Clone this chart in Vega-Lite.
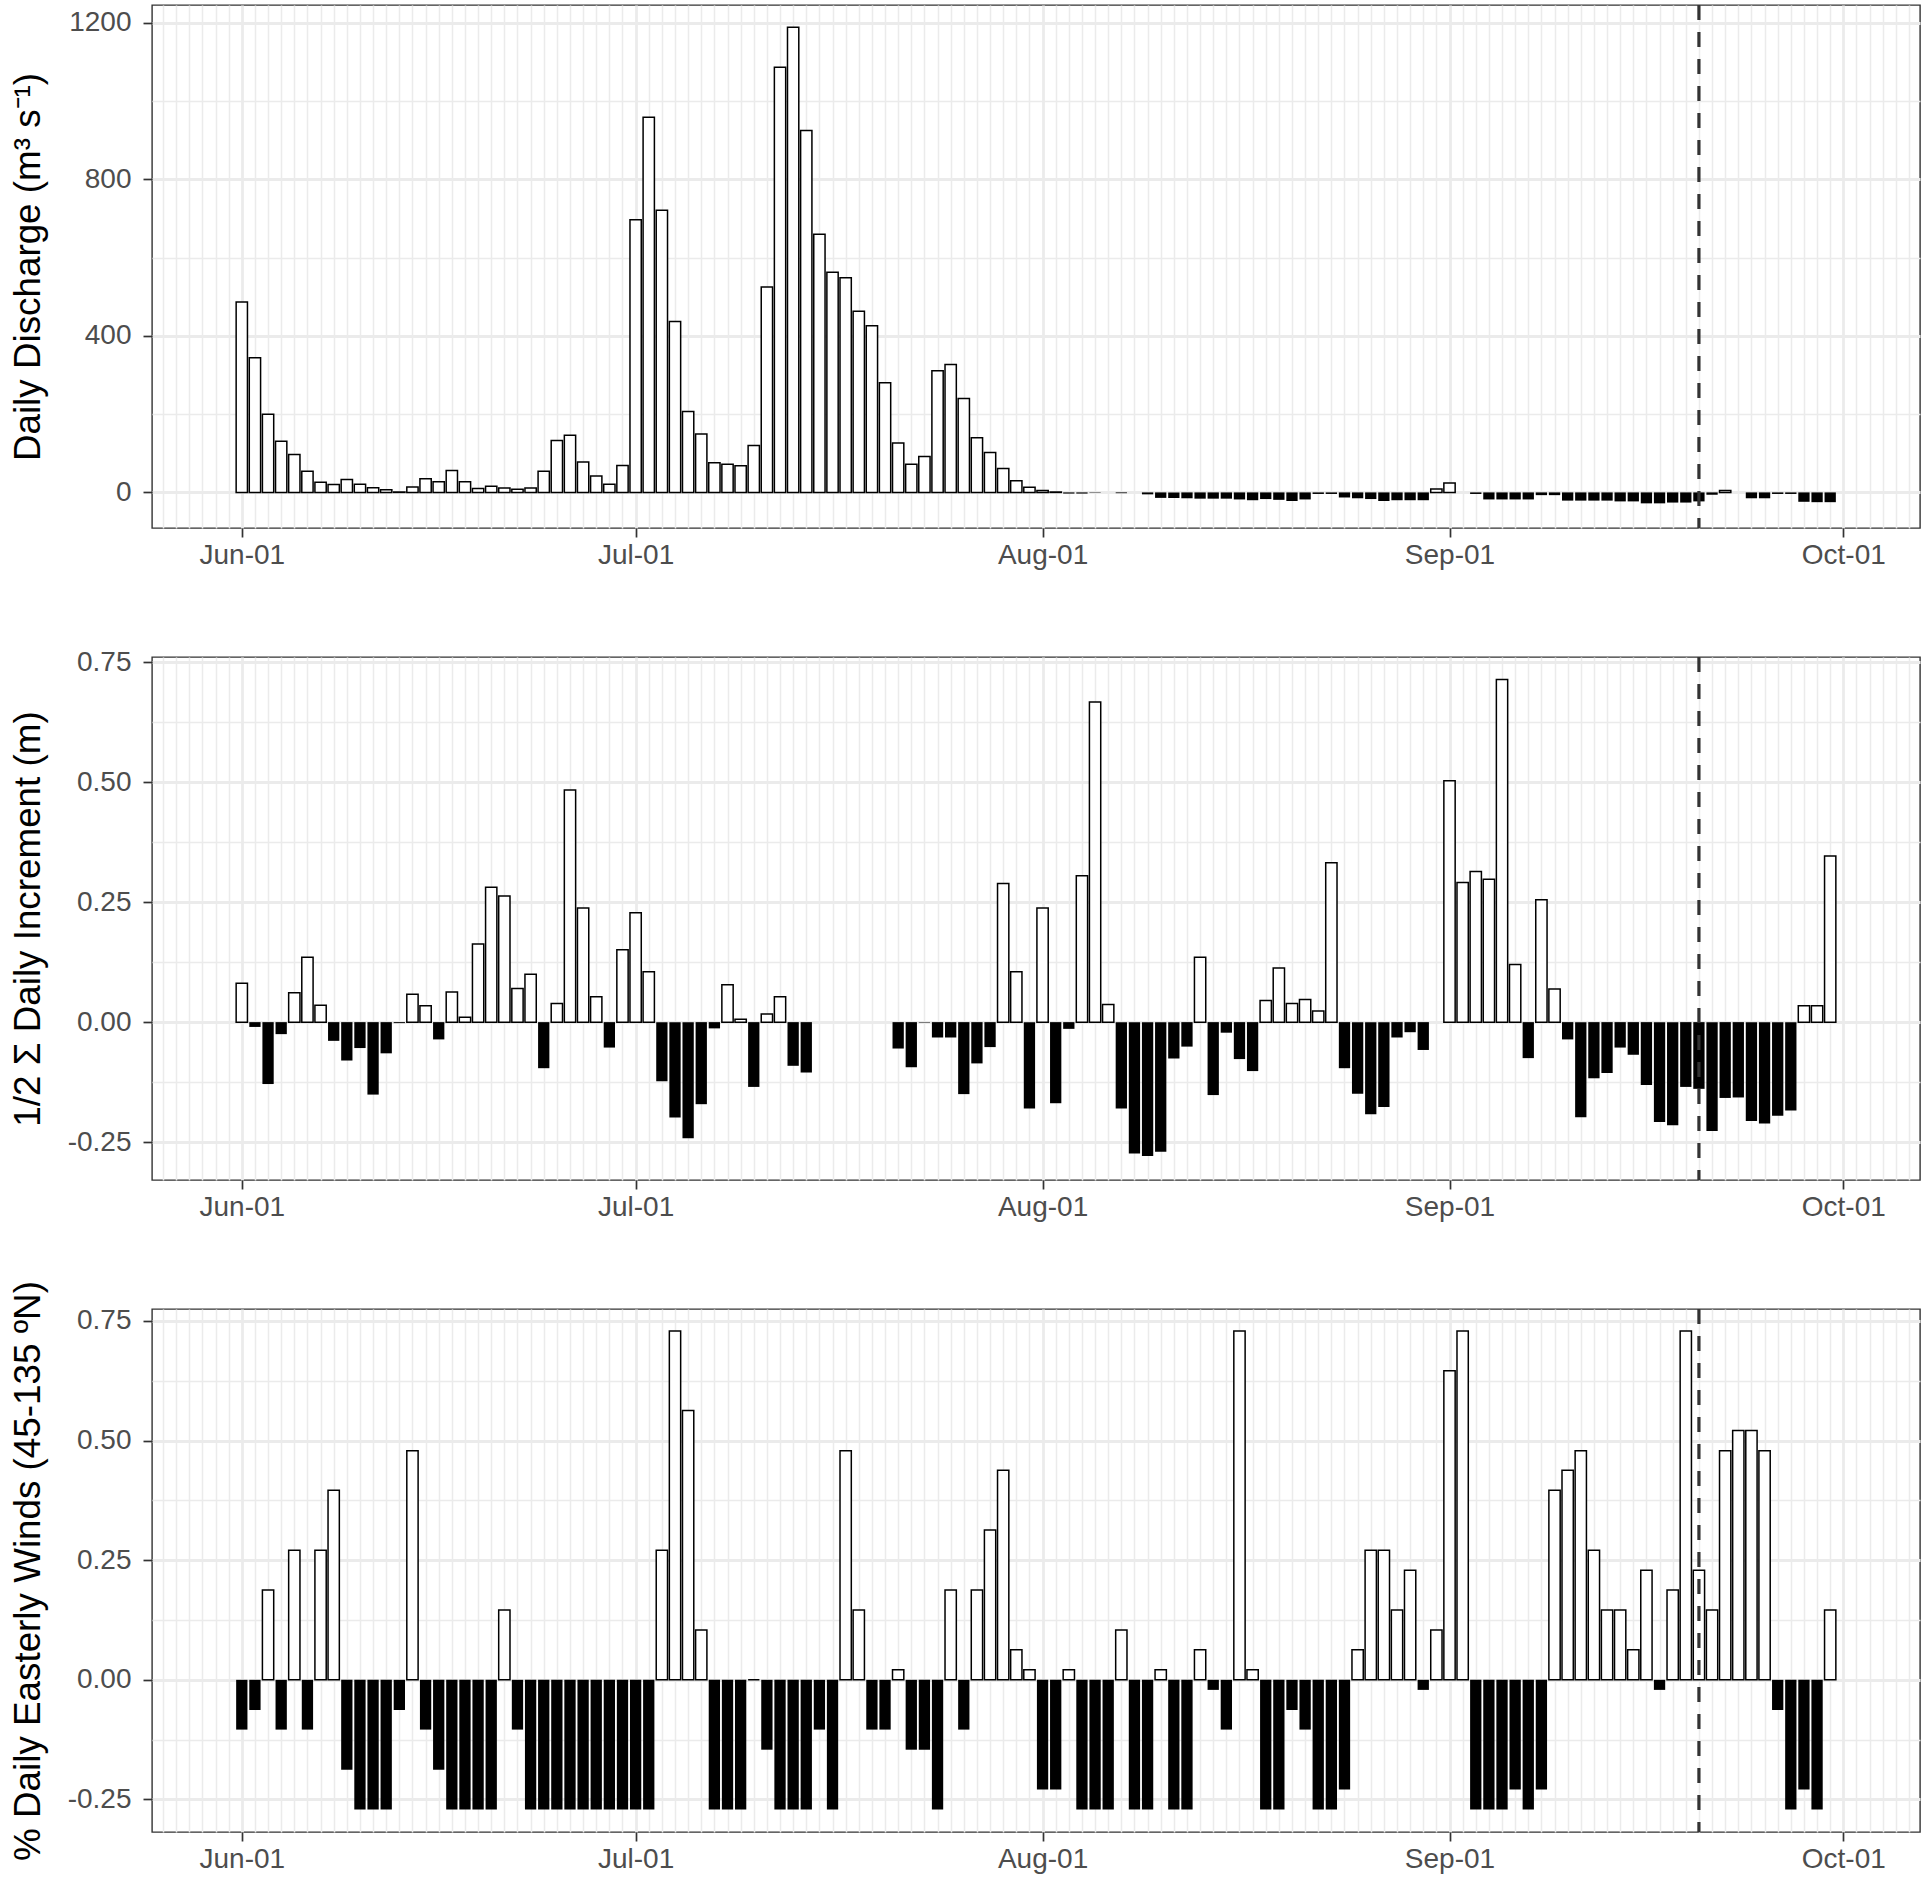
{
"$schema": "https://vega.github.io/schema/vega-lite/v6.json",
"padding": {"left": 9, "top": 2, "right": 5, "bottom": 5},
"background": "white",
"spacing": 129,
"bounds": "flush",
"config": {
  "font": "Liberation Sans",
  "view": {"stroke": "#333333", "strokeWidth": 1.4},
  "axis": {"labelFont": "Liberation Sans", "labelFontSize": 28, "labelColor": "#4D4D4D", "titleFont": "Liberation Sans", "titleFontSize": 36.8, "titleFontWeight": "normal", "titleColor": "#000000", "tickColor": "#333333", "tickWidth": 1.7, "tickSize": 9, "domain": false, "gridColor": "#EBEBEB"},
  "axisX": {"labelPadding": 4},
  "axisY": {"labelPadding": 12, "titleX": -113, "titleY": 261.5, "titleAngle": 270, "titleAlign": "center", "titleBaseline": "alphabetic"}
},
"data": {"values": [
{"d":"2019-06-01","q":487,"s":0.081,"w":-0.104},
{"d":"2019-06-02","q":344,"s":-0.010,"w":-0.063},
{"d":"2019-06-03","q":200,"s":-0.129,"w":0.188},
{"d":"2019-06-04","q":131,"s":-0.025,"w":-0.104},
{"d":"2019-06-05","q":97,"s":0.061,"w":0.271},
{"d":"2019-06-06","q":54,"s":0.135,"w":-0.104},
{"d":"2019-06-07","q":26,"s":0.035,"w":0.271},
{"d":"2019-06-08","q":20,"s":-0.039,"w":0.396},
{"d":"2019-06-09","q":33,"s":-0.080,"w":-0.188},
{"d":"2019-06-10","q":21,"s":-0.054,"w":-0.271},
{"d":"2019-06-11","q":12,"s":-0.151,"w":-0.271},
{"d":"2019-06-12","q":7,"s":-0.065,"w":-0.271},
{"d":"2019-06-13","q":1,"s":-0.002,"w":-0.063},
{"d":"2019-06-14","q":14,"s":0.058,"w":0.479},
{"d":"2019-06-15","q":35,"s":0.034,"w":-0.104},
{"d":"2019-06-16","q":27,"s":-0.036,"w":-0.188},
{"d":"2019-06-17","q":56,"s":0.063,"w":-0.271},
{"d":"2019-06-18","q":27,"s":0.010,"w":-0.271},
{"d":"2019-06-19","q":10,"s":0.163,"w":-0.271},
{"d":"2019-06-20","q":16,"s":0.281,"w":-0.271},
{"d":"2019-06-21","q":11,"s":0.263,"w":0.146},
{"d":"2019-06-22","q":8,"s":0.070,"w":-0.104},
{"d":"2019-06-23","q":11,"s":0.100,"w":-0.271},
{"d":"2019-06-24","q":54,"s":-0.096,"w":-0.271},
{"d":"2019-06-25","q":133,"s":0.039,"w":-0.271},
{"d":"2019-06-26","q":146,"s":0.484,"w":-0.271},
{"d":"2019-06-27","q":78,"s":0.238,"w":-0.271},
{"d":"2019-06-28","q":42,"s":0.053,"w":-0.271},
{"d":"2019-06-29","q":21,"s":-0.053,"w":-0.271},
{"d":"2019-06-30","q":69,"s":0.151,"w":-0.271},
{"d":"2019-07-01","q":697,"s":0.228,"w":-0.271},
{"d":"2019-07-02","q":959,"s":0.105,"w":-0.271},
{"d":"2019-07-03","q":721,"s":-0.123,"w":0.271},
{"d":"2019-07-04","q":437,"s":-0.199,"w":0.729},
{"d":"2019-07-05","q":207,"s":-0.242,"w":0.563},
{"d":"2019-07-06","q":149,"s":-0.171,"w":0.104},
{"d":"2019-07-07","q":76,"s":-0.013,"w":-0.271},
{"d":"2019-07-08","q":72,"s":0.078,"w":-0.271},
{"d":"2019-07-09","q":68,"s":0.006,"w":-0.271},
{"d":"2019-07-10","q":120,"s":-0.135,"w":0},
{"d":"2019-07-11","q":525,"s":0.017,"w":-0.146},
{"d":"2019-07-12","q":1087,"s":0.053,"w":-0.271},
{"d":"2019-07-13","q":1189,"s":-0.091,"w":-0.271},
{"d":"2019-07-14","q":925,"s":-0.105,"w":-0.271},
{"d":"2019-07-15","q":660,"s":null,"w":-0.104},
{"d":"2019-07-16","q":563,"s":null,"w":-0.271},
{"d":"2019-07-17","q":549,"s":null,"w":0.479},
{"d":"2019-07-18","q":463,"s":null,"w":0.146},
{"d":"2019-07-19","q":426,"s":null,"w":-0.104},
{"d":"2019-07-20","q":280,"s":null,"w":-0.104},
{"d":"2019-07-21","q":126,"s":-0.055,"w":0.021},
{"d":"2019-07-22","q":72,"s":-0.094,"w":-0.146},
{"d":"2019-07-23","q":92,"s":-0.001,"w":-0.146},
{"d":"2019-07-24","q":311,"s":-0.032,"w":-0.271},
{"d":"2019-07-25","q":327,"s":-0.032,"w":0.188},
{"d":"2019-07-26","q":240,"s":-0.150,"w":-0.104},
{"d":"2019-07-27","q":140,"s":-0.086,"w":0.188},
{"d":"2019-07-28","q":102,"s":-0.052,"w":0.313},
{"d":"2019-07-29","q":61,"s":0.289,"w":0.438},
{"d":"2019-07-30","q":30,"s":0.105,"w":0.063},
{"d":"2019-07-31","q":13,"s":-0.180,"w":0.021},
{"d":"2019-08-01","q":5,"s":0.238,"w":-0.229},
{"d":"2019-08-02","q":1,"s":-0.169,"w":-0.229},
{"d":"2019-08-03","q":-3,"s":-0.014,"w":0.021},
{"d":"2019-08-04","q":-3,"s":0.305,"w":-0.271},
{"d":"2019-08-05","q":-1,"s":0.667,"w":-0.271},
{"d":"2019-08-06","q":null,"s":0.037,"w":-0.271},
{"d":"2019-08-07","q":-2,"s":-0.180,"w":0.104},
{"d":"2019-08-08","q":null,"s":-0.274,"w":-0.271},
{"d":"2019-08-09","q":-5,"s":-0.279,"w":-0.271},
{"d":"2019-08-10","q":-14,"s":-0.270,"w":0.021},
{"d":"2019-08-11","q":-14,"s":-0.076,"w":-0.271},
{"d":"2019-08-12","q":-15,"s":-0.051,"w":-0.271},
{"d":"2019-08-13","q":-16,"s":0.135,"w":0.063},
{"d":"2019-08-14","q":-16,"s":-0.152,"w":-0.021},
{"d":"2019-08-15","q":-16,"s":-0.022,"w":-0.104},
{"d":"2019-08-16","q":-18,"s":-0.077,"w":0.729},
{"d":"2019-08-17","q":-20,"s":-0.102,"w":0.021},
{"d":"2019-08-18","q":-17,"s":0.045,"w":-0.271},
{"d":"2019-08-19","q":-19,"s":0.113,"w":-0.271},
{"d":"2019-08-20","q":-22,"s":0.039,"w":-0.063},
{"d":"2019-08-21","q":-18,"s":0.047,"w":-0.104},
{"d":"2019-08-22","q":-4,"s":0.023,"w":-0.271},
{"d":"2019-08-23","q":-4,"s":0.332,"w":-0.271},
{"d":"2019-08-24","q":-13,"s":-0.096,"w":-0.229},
{"d":"2019-08-25","q":-15,"s":-0.149,"w":0.063},
{"d":"2019-08-26","q":-17,"s":-0.192,"w":0.271},
{"d":"2019-08-27","q":-22,"s":-0.177,"w":0.271},
{"d":"2019-08-28","q":-20,"s":-0.032,"w":0.146},
{"d":"2019-08-29","q":-20,"s":-0.021,"w":0.229},
{"d":"2019-08-30","q":-20,"s":-0.058,"w":-0.021},
{"d":"2019-08-31","q":9,"s":null,"w":0.104},
{"d":"2019-09-01","q":24,"s":0.503,"w":0.646},
{"d":"2019-09-02","q":null,"s":0.291,"w":0.729},
{"d":"2019-09-03","q":-4,"s":0.314,"w":-0.271},
{"d":"2019-09-04","q":-18,"s":0.298,"w":-0.271},
{"d":"2019-09-05","q":-18,"s":0.714,"w":-0.271},
{"d":"2019-09-06","q":-18,"s":0.120,"w":-0.229},
{"d":"2019-09-07","q":-18,"s":-0.075,"w":-0.271},
{"d":"2019-09-08","q":-7,"s":0.255,"w":-0.229},
{"d":"2019-09-09","q":-7,"s":0.069,"w":0.396},
{"d":"2019-09-10","q":-21,"s":-0.036,"w":0.438},
{"d":"2019-09-11","q":-21,"s":-0.198,"w":0.479},
{"d":"2019-09-12","q":-21,"s":-0.117,"w":0.271},
{"d":"2019-09-13","q":-21,"s":-0.106,"w":0.146},
{"d":"2019-09-14","q":-23,"s":-0.053,"w":0.146},
{"d":"2019-09-15","q":-23,"s":-0.068,"w":0.063},
{"d":"2019-09-16","q":-28,"s":-0.131,"w":0.229},
{"d":"2019-09-17","q":-28,"s":-0.208,"w":-0.021},
{"d":"2019-09-18","q":-26,"s":-0.215,"w":0.188},
{"d":"2019-09-19","q":-26,"s":-0.135,"w":0.729},
{"d":"2019-09-20","q":-23,"s":-0.139,"w":0.229},
{"d":"2019-09-21","q":-6,"s":-0.227,"w":0.146},
{"d":"2019-09-22","q":5,"s":-0.158,"w":0.479},
{"d":"2019-09-23","q":null,"s":-0.157,"w":0.521},
{"d":"2019-09-24","q":-15,"s":-0.206,"w":0.521},
{"d":"2019-09-25","q":-15,"s":-0.211,"w":0.479},
{"d":"2019-09-26","q":-4,"s":-0.195,"w":-0.063},
{"d":"2019-09-27","q":-4,"s":-0.184,"w":-0.271},
{"d":"2019-09-28","q":-24,"s":0.034,"w":-0.229},
{"d":"2019-09-29","q":-25,"s":0.034,"w":-0.271},
{"d":"2019-09-30","q":-25,"s":0.346,"w":0.146}
]},
"vconcat": [
{
  "width": 1768, "height": 523,
  "layer": [
    {"mark": {"type": "bar", "width": 11.3, "stroke": "#000000"},
     "encoding": {
       "x": {"field": "d", "type": "temporal", "scale": {"type": "utc", "domain": [1558789056000, 1570359744000]},
             "axis": {"title": null, "tickCount": {"interval": "day", "step": 1}, "labelOverlap": false, "labelFlush": false,
                      "labelExpr": "utcdate(datum.value) === 1 ? utcFormat(datum.value, '%b-%d') : ''",
                      "grid": true,
                      "gridWidth": {"condition": {"test": "utcdate(datum.value) === 1", "value": 2.8}, "value": 1.5},
                      "tickOpacity": {"condition": {"test": "utcdate(datum.value) === 1", "value": 1}, "value": 0}}},
       "y": {"field": "q", "type": "quantitative", "scale": {"domain": [-91, 1246], "nice": false, "zero": false},
             "axis": {"title": "Daily Discharge (m³ s⁻¹)", "values": [0, 200, 400, 600, 800, 1000, 1200], "labelOverlap": false,
                      "labelExpr": "datum.value % 400 === 0 ? '' + datum.value : ''",
                      "gridWidth": {"condition": {"test": "datum.value % 400 === 0", "value": 2.8}, "value": 1.5},
                      "tickOpacity": {"condition": {"test": "datum.value % 400 === 0", "value": 1}, "value": 0}}},
       "y2": {"datum": 0},
       "fill": {"condition": {"test": "datum.q < 0", "value": "#000000"}, "value": "#ffffff"},
       "strokeWidth": {"condition": {"test": "datum.q < 0", "value": 0}, "value": 1.5}
     }},
    {"data": {"values": [{"d": "2019-09-20"}]},
     "mark": {"type": "rule", "strokeDash": [15, 12], "strokeWidth": 3.2, "color": "#333333"},
     "encoding": {"x": {"field": "d", "type": "temporal"}}}
  ]
},
{
  "width": 1768, "height": 523,
  "layer": [
    {"mark": {"type": "bar", "width": 11.3, "stroke": "#000000"},
     "encoding": {
       "x": {"field": "d", "type": "temporal", "scale": {"type": "utc", "domain": [1558789056000, 1570359744000]},
             "axis": {"title": null, "tickCount": {"interval": "day", "step": 1}, "labelOverlap": false, "labelFlush": false,
                      "labelExpr": "utcdate(datum.value) === 1 ? utcFormat(datum.value, '%b-%d') : ''",
                      "grid": true,
                      "gridWidth": {"condition": {"test": "utcdate(datum.value) === 1", "value": 2.8}, "value": 1.5},
                      "tickOpacity": {"condition": {"test": "utcdate(datum.value) === 1", "value": 1}, "value": 0}}},
       "y": {"field": "s", "type": "quantitative", "scale": {"domain": [-0.329, 0.761], "nice": false, "zero": false},
             "axis": {"title": "1/2 Σ Daily Increment (m)", "values": [-0.25, -0.125, 0, 0.125, 0.25, 0.375, 0.5, 0.625, 0.75], "labelOverlap": false,
                      "labelExpr": "abs(datum.value*4 - round(datum.value*4)) < 0.0001 ? replace(format(datum.value, '.2f'), '\u2212', '-') : ''",
                      "gridWidth": {"condition": {"test": "abs(datum.value*4 - round(datum.value*4)) < 0.0001", "value": 2.8}, "value": 1.5},
                      "tickOpacity": {"condition": {"test": "abs(datum.value*4 - round(datum.value*4)) < 0.0001", "value": 1}, "value": 0}}},
       "y2": {"datum": 0},
       "fill": {"condition": {"test": "datum.s < 0", "value": "#000000"}, "value": "#ffffff"},
       "strokeWidth": {"condition": {"test": "datum.s < 0", "value": 0}, "value": 1.5}
     }},
    {"data": {"values": [{"d": "2019-09-20"}]},
     "mark": {"type": "rule", "strokeDash": [15, 12], "strokeWidth": 3.2, "color": "#333333"},
     "encoding": {"x": {"field": "d", "type": "temporal"}}}
  ]
},
{
  "width": 1768, "height": 523,
  "layer": [
    {"mark": {"type": "bar", "width": 11.3, "stroke": "#000000"},
     "encoding": {
       "x": {"field": "d", "type": "temporal", "scale": {"type": "utc", "domain": [1558789056000, 1570359744000]},
             "axis": {"title": null, "tickCount": {"interval": "day", "step": 1}, "labelOverlap": false, "labelFlush": false,
                      "labelExpr": "utcdate(datum.value) === 1 ? utcFormat(datum.value, '%b-%d') : ''",
                      "grid": true,
                      "gridWidth": {"condition": {"test": "utcdate(datum.value) === 1", "value": 2.8}, "value": 1.5},
                      "tickOpacity": {"condition": {"test": "utcdate(datum.value) === 1", "value": 1}, "value": 0}}},
       "y": {"field": "w", "type": "quantitative", "scale": {"domain": [-0.318, 0.775], "nice": false, "zero": false},
             "axis": {"title": "% Daily Easterly Winds (45-135 ºN)", "values": [-0.25, -0.125, 0, 0.125, 0.25, 0.375, 0.5, 0.625, 0.75], "labelOverlap": false,
                      "labelExpr": "abs(datum.value*4 - round(datum.value*4)) < 0.0001 ? replace(format(datum.value, '.2f'), '\u2212', '-') : ''",
                      "gridWidth": {"condition": {"test": "abs(datum.value*4 - round(datum.value*4)) < 0.0001", "value": 2.8}, "value": 1.5},
                      "tickOpacity": {"condition": {"test": "abs(datum.value*4 - round(datum.value*4)) < 0.0001", "value": 1}, "value": 0}}},
       "y2": {"datum": 0},
       "fill": {"condition": {"test": "datum.w < 0", "value": "#000000"}, "value": "#ffffff"},
       "strokeWidth": {"condition": {"test": "datum.w < 0", "value": 0}, "value": 1.5}
     }},
    {"data": {"values": [{"d": "2019-09-20"}]},
     "mark": {"type": "rule", "strokeDash": [15, 12], "strokeWidth": 3.2, "color": "#333333"},
     "encoding": {"x": {"field": "d", "type": "temporal"}}}
  ]
}
]
}
